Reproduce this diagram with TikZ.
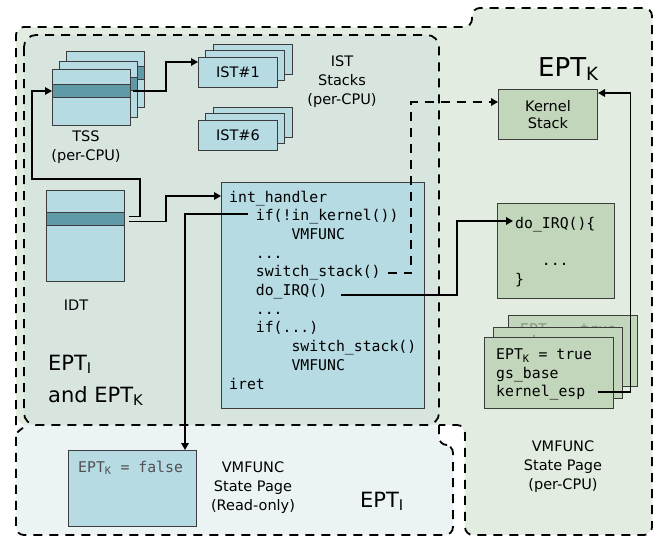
\documentclass[tikz,border=0pt]{standalone}
\usepackage{fontspec}
\setmainfont{DejaVu Sans}
\setmonofont{DejaVu Sans Mono}
\usetikzlibrary{arrows.meta}
\definecolor{eptk}{HTML}{E3ECE1}
\definecolor{both}{HTML}{D8E5DF}
\definecolor{epti}{HTML}{EBF3F5}
\definecolor{bbox}{HTML}{B6DBE3}
\definecolor{stripe}{HTML}{5F9AA6}
\definecolor{gbox}{HTML}{C2D6BB}
\definecolor{edge}{HTML}{3C3C3C}
\definecolor{faded}{HTML}{8A9887}
\definecolor{greytxt}{HTML}{505050}
\newcommand\cdfont{\ttfamily\fontsize{14.8}{18.7}\selectfont}
\newcommand\lbfont{\fontsize{14.5}{19}\selectfont}
\begin{document}
\begin{tikzpicture}[x=1pt,y=-1pt,
  region/.style={dash pattern=on 9pt off 7pt, line width=1.8pt},
  bluebox/.style={draw=edge, fill=bbox, line width=1pt, inner sep=0, anchor=north west, font=\lbfont},
  stripebox/.style={draw=edge, fill=stripe, line width=1pt, inner sep=0, anchor=north west, minimum height=13},
  greenbox/.style={draw=edge, fill=gbox, line width=1pt, inner sep=0, anchor=north west},
  code/.style={font=\cdfont, inner sep=0, anchor=base west},
  lab/.style={font=\lbfont, inner sep=0, align=center},
  conn/.style={line width=1.8pt, -{Triangle[length=7pt,width=7.5pt]}},
  dconn/.style={conn, dash pattern=on 9pt off 7pt}
]
\useasboundingbox (0,0) rectangle (656,538);

% ---- regions ----
\fill[eptk, rounded corners=10] (16,425) -- (16,27) -- (472,27) -- (472,8) -- (652,8) -- (652,535) -- (465,535) -- (465,425) -- cycle;
\draw[region, rounded corners=8] (16,425) -- (16,27) -- (472,27) -- (472,8) -- (652,8) -- (652,535) -- (465,535) -- (465,425) -- (439,425);
\fill[epti, rounded corners=8] (16,425) -- (439,425) -- (439,445) -- (453,445) -- (453,535) -- (16,535) -- cycle;
\draw[region, rounded corners=8] (439,425) -- (439,445) -- (453,445) -- (453,535) -- (16,535) -- (16,440) arc[start angle=180, end angle=240, radius=14];
\draw[region, fill=both, rounded corners=12] (24,35) rectangle (439,425);

% ---- TSS stack ----
\node[bluebox, minimum width=78, minimum height=56] (tss3) at (66,51) {};
\node[stripebox, minimum width=78] (tssS3) at (66,66) {};
\node[bluebox, minimum width=78, minimum height=56] (tss2) at (59,61) {};
\node[stripebox, minimum width=78] (tssS2) at (59,77) {};
\node[bluebox, minimum width=78, minimum height=56] (tss1) at (52,69) {};
\node[stripebox, minimum width=78] (tssS1) at (52,84) {};
\node[lab] (tsslab) at (86,147) {TSS\\(per-CPU)};

% ---- IST stacks ----
\node[bluebox, minimum width=79, minimum height=30] (ist1c) at (213,44) {};
\node[bluebox, minimum width=79, minimum height=30] (ist1b) at (205,50) {};
\node[bluebox, minimum width=79, minimum height=30] (ist1) at (198,57) {IST\#1};
\node[bluebox, minimum width=79, minimum height=30] (ist6c) at (213,107) {};
\node[bluebox, minimum width=79, minimum height=30] (ist6b) at (205,113) {};
\node[bluebox, minimum width=79, minimum height=30] (ist6) at (198,120) {IST\#6};
\node[lab] (istlab) at (342,82) {IST\\Stacks\\(per-CPU)};

% ---- IDT ----
\node[bluebox, minimum width=78, minimum height=91] (idt) at (46,190) {};
\node[stripebox, minimum width=78] (idtS) at (46,212) {};
\node[lab] (idtlab) at (76,305) {IDT};

% ---- code box ----
\node[bluebox, minimum width=203, minimum height=226] (code) at (221,182) {};
\node[code] (ih) at (229,202) {int\_handler};
\node[code] (ifk) at (255.7,220.7) {if(!in\_kernel())};
\node[code] (vm1) at (291.3,239.4) {VMFUNC};
\node[code] (dots1) at (255.7,258.1) {...};
\node[code] (sw1) at (255.7,276.8) {switch\_stack()};
\node[code] (dirq) at (255.7,295.5) {do\_IRQ()};
\node[code] (dots2) at (255.7,314.2) {...};
\node[code] (if2) at (255.7,332.9) {if(...)};
\node[code] (sw2) at (291.3,351.6) {switch\_stack()};
\node[code] (vm2) at (291.3,370.3) {VMFUNC};
\node[code] (iret) at (229,389) {iret};

% ---- region labels ----
\node[inner sep=0, anchor=base west, font=\fontsize{21}{25}\selectfont] (lbl1) at (48,370) {EPT\textsubscript{I}};
\node[inner sep=0, anchor=base west, font=\fontsize{21}{25}\selectfont] (lbl2) at (48,402) {and EPT\textsubscript{K}};
\node[inner sep=0, anchor=base west, font=\fontsize{26}{30}\selectfont] (lbl3) at (538,76) {EPT\textsubscript{K}};
\node[inner sep=0, anchor=base west, font=\fontsize{21}{25}\selectfont] (lbl4) at (360,507) {EPT\textsubscript{I}};

% ---- read-only state page ----
\node[bluebox, minimum width=128, minimum height=76] (fbox) at (68,450) {};
\node[code, text=greytxt] (ftext) at (78,472) {EPT\textsubscript{K} = false};
\node[lab] (rolab) at (253,488) {VMFUNC\\State Page\\(Read-only)};

% ---- kernel side ----
\node[greenbox, minimum width=99, minimum height=50, align=center, font=\fontsize{14.5}{17.5}\selectfont] (kstack) at (498,89) {Kernel\\Stack};
\node[greenbox, minimum width=117, minimum height=95] (dbox) at (497,203) {};
\node[code] (dtext) at (515,228) {do\_IRQ()\{};
\node[code] (ddots) at (541.7,265.4) {...};
\node[code] (dbrace) at (515,284) {\}};

\node[greenbox, minimum width=129, minimum height=71] (st3) at (508,315) {};
\node[code, text=faded] (st3t) at (520,334) {EPT\textsubscript{K} = true};
\node[greenbox, minimum width=129, minimum height=71] (st2) at (493,327) {};
\node[code, text=faded] (st2t) at (505,346) {gs\_base};
\node[greenbox, minimum width=129, minimum height=71] (st1) at (484,337) {};
\node[code] (ekt) at (496,359.5) {EPT\textsubscript{K} = true};
\node[code] (gsb) at (496,378.2) {gs\_base};
\node[code] (kesp) at (496,396.9) {kernel\_esp};
\node[lab] (pclab) at (563,467) {VMFUNC\\State Page\\(per-CPU)};

% ---- connectors ----
\draw[conn] ([xshift=4,yshift=2.5]idtS.east) -| (140,179) -- (32,179) |- (tssS1.west);
\draw[conn] ([xshift=4,yshift=-2.5]idtS.east) -| (166,196) -- ([yshift=-14]code.north west);
\draw[conn] ([xshift=2]tssS1.east) -| (166,62) -- ([yshift=-5]ist1.north west);
\draw[conn] ([xshift=-8,yshift=6.4]ifk.base west) -| ([xshift=-12]fbox.north east);
\draw[dconn] ([xshift=7,yshift=3.5]sw1.base east) -- ++(23.5,0) |- ([yshift=-13]kstack.north west);
\draw[conn] ([xshift=14,yshift=0.5]dirq.base east) -- ++(116,0) |- ([xshift=-2,yshift=7]dtext.base west);
\draw[conn] ([xshift=12,yshift=5]kesp.base east) -- ++(33,0) |- ([yshift=-4]kstack.north east);
\end{tikzpicture}
\end{document}
